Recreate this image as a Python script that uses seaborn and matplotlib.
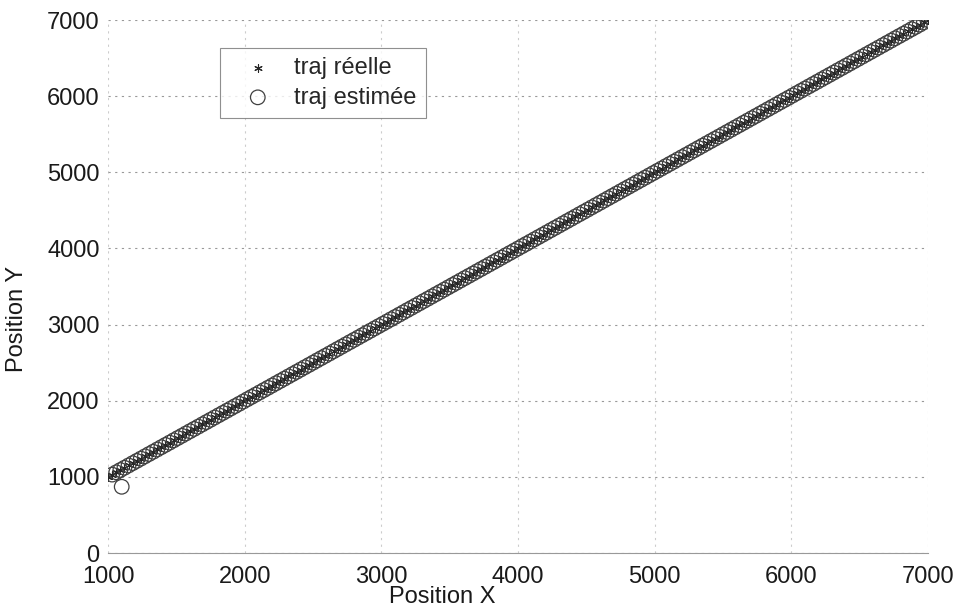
import matplotlib
matplotlib.use("Agg")
import matplotlib.pyplot as plt
import seaborn as sns

# true trajectory: x and y positions (points lie on y = x)
traj_x = [1000, 1030, 1060, 1090, 1120, 1150, 1180, 1210, 1240, 1270,
          1300, 1330, 1360, 1390, 1420, 1450, 1480, 1510, 1540, 1570,
          1600, 1630, 1660, 1690, 1720, 1750, 1780, 1810, 1840, 1870,
          1900, 1930, 1960, 1990, 2020, 2050, 2080, 2110, 2140, 2170,
          2200, 2230, 2260, 2290, 2320, 2350, 2380, 2410, 2440, 2470,
          2500, 2530, 2560, 2590, 2620, 2650, 2680, 2710, 2740, 2770,
          2800, 2830, 2860, 2890, 2920, 2950, 2980, 3010, 3040, 3070,
          3100, 3130, 3160, 3190, 3220, 3250, 3280, 3310, 3340, 3370,
          3400, 3430, 3460, 3490, 3520, 3550, 3580, 3610, 3640, 3670,
          3700, 3730, 3760, 3790, 3820, 3850, 3880, 3910, 3940, 3970,
          4000, 4030, 4060, 4090, 4120, 4150, 4180, 4210, 4240, 4270,
          4300, 4330, 4360, 4390, 4420, 4450, 4480, 4510, 4540, 4570,
          4600, 4630, 4660, 4690, 4720, 4750, 4780, 4810, 4840, 4870,
          4900, 4930, 4960, 4990, 5020, 5050, 5080, 5110, 5140, 5170,
          5200, 5230, 5260, 5290, 5320, 5350, 5380, 5410, 5440, 5470,
          5500, 5530, 5560, 5590, 5620, 5650, 5680, 5710, 5740, 5770,
          5800, 5830, 5860, 5890, 5920, 5950, 5980, 6010, 6040, 6070,
          6100, 6130, 6160, 6190, 6220, 6250, 6280, 6310, 6340, 6370,
          6400, 6430, 6460, 6490, 6520, 6550, 6580, 6610, 6640, 6670,
          6700, 6730, 6760, 6790, 6820, 6850, 6880, 6910, 6940, 6970,
          7000]
traj_y = traj_x

# estimated trajectory (first estimate is off, then it follows the true one)
est_x = [1100, 1030, 1060, 1090, 1120, 1150, 1180, 1210, 1240, 1270,
         1300, 1330, 1360, 1390, 1420, 1450, 1480, 1510, 1540, 1570,
         1600, 1630, 1660, 1690, 1720, 1750, 1780, 1810, 1840, 1870,
         1900, 1930, 1960, 1990, 2020, 2050, 2080, 2110, 2140, 2170,
         2200, 2230, 2260, 2290, 2320, 2350, 2380, 2410, 2440, 2470,
         2500, 2530, 2560, 2590, 2620, 2650, 2680, 2710, 2740, 2770,
         2800, 2830, 2860, 2890, 2920, 2950, 2980, 3010, 3040, 3070,
         3100, 3130, 3160, 3190, 3220, 3250, 3280, 3310, 3340, 3370,
         3400, 3430, 3460, 3490, 3520, 3550, 3580, 3610, 3640, 3670,
         3700, 3730, 3760, 3790, 3820, 3850, 3880, 3910, 3940, 3970,
         4000, 4030, 4060, 4090, 4120, 4150, 4180, 4210, 4240, 4270,
         4300, 4330, 4360, 4390, 4420, 4450, 4480, 4510, 4540, 4570,
         4600, 4630, 4660, 4690, 4720, 4750, 4780, 4810, 4840, 4870,
         4900, 4930, 4960, 4990, 5020, 5050, 5080, 5110, 5140, 5170,
         5200, 5230, 5260, 5290, 5320, 5350, 5380, 5410, 5440, 5470,
         5500, 5530, 5560, 5590, 5620, 5650, 5680, 5710, 5740, 5770,
         5800, 5830, 5860, 5890, 5920, 5950, 5980, 6010, 6040, 6070,
         6100, 6130, 6160, 6190, 6220, 6250, 6280, 6310, 6340, 6370,
         6400, 6430, 6460, 6490, 6520, 6550, 6580, 6610, 6640, 6670,
         6700, 6730, 6760, 6790, 6820, 6850, 6880, 6910, 6940, 6970,
         7000]
est_y = [870, 1030, 1060, 1090, 1120, 1150, 1180, 1210, 1240, 1270,
         1300, 1330, 1360, 1390, 1420, 1450, 1480, 1510, 1540, 1570,
         1600, 1630, 1660, 1690, 1720, 1750, 1780, 1810, 1840, 1870,
         1900, 1930, 1960, 1990, 2020, 2050, 2080, 2110, 2140, 2170,
         2200, 2230, 2260, 2290, 2320, 2350, 2380, 2410, 2440, 2470,
         2500, 2530, 2560, 2590, 2620, 2650, 2680, 2710, 2740, 2770,
         2800, 2830, 2860, 2890, 2920, 2950, 2980, 3010, 3040, 3070,
         3100, 3130, 3160, 3190, 3220, 3250, 3280, 3310, 3340, 3370,
         3400, 3430, 3460, 3490, 3520, 3550, 3580, 3610, 3640, 3670,
         3700, 3730, 3760, 3790, 3820, 3850, 3880, 3910, 3940, 3970,
         4000, 4030, 4060, 4090, 4120, 4150, 4180, 4210, 4240, 4270,
         4300, 4330, 4360, 4390, 4420, 4450, 4480, 4510, 4540, 4570,
         4600, 4630, 4660, 4690, 4720, 4750, 4780, 4810, 4840, 4870,
         4900, 4930, 4960, 4990, 5020, 5050, 5080, 5110, 5140, 5170,
         5200, 5230, 5260, 5290, 5320, 5350, 5380, 5410, 5440, 5470,
         5500, 5530, 5560, 5590, 5620, 5650, 5680, 5710, 5740, 5770,
         5800, 5830, 5860, 5890, 5920, 5950, 5980, 6010, 6040, 6070,
         6100, 6130, 6160, 6190, 6220, 6250, 6280, 6310, 6340, 6370,
         6400, 6430, 6460, 6490, 6520, 6550, 6580, 6610, 6640, 6670,
         6700, 6730, 6760, 6790, 6820, 6850, 6880, 6910, 6940, 6970,
         7000]

x_ticks = [1000, 2000, 3000, 4000, 5000, 6000, 7000]
y_ticks = [0, 1000, 2000, 3000, 4000, 5000, 6000, 7000]

sns.set_style("white")
plt.rcParams["font.family"] = ["Liberation Sans", "DejaVu Sans"]

fig = plt.figure(figsize=(9.57, 6.11), dpi=100)
ax = fig.add_axes([0.1129, 0.0949, 0.8568, 0.8723])

sns.scatterplot(x=traj_x, y=traj_y, ax=ax, marker=(6, 2, 0), s=30,
                color="0.15", linewidth=0.8, label="traj réelle", zorder=3)
sns.scatterplot(x=est_x, y=est_y, ax=ax, marker="o", s=110,
                facecolor="none", edgecolor="0.25", linewidth=0.9,
                label="traj estimée", zorder=4)

ax.set_xlim(1000, 7000)
ax.set_ylim(0, 7000)
ax.set_xticks(x_ticks)
ax.set_yticks(y_ticks)
ax.tick_params(labelsize=17, length=0, colors="0.1")
ax.tick_params(axis="x", pad=9)
ax.tick_params(axis="y", pad=6)
ax.xaxis.grid(True, linestyle=(0, (2, 4)), color="0.8", linewidth=0.8)
ax.yaxis.grid(True, linestyle=(0, (2, 4)), color="0.6", linewidth=0.8)

for side in ["top", "right", "left"]:
    ax.spines[side].set_visible(False)
ax.spines["bottom"].set_color("0.6")
ax.spines["bottom"].set_linewidth(0.8)

ax.set_xlabel("Position X", fontsize=17, color="0.1")
ax.xaxis.set_label_coords(0.407, -0.062)
ax.xaxis.label.set_va("top")
ax.set_ylabel("Position Y", fontsize=17, color="0.1")
ax.yaxis.set_label_coords(-0.098, 0.44)

leg = ax.legend(loc="upper left", bbox_to_anchor=(220 / 957, 1 - 48 / 611),
                bbox_transform=fig.transFigure, borderaxespad=0,
                fontsize=17, frameon=True, fancybox=False, edgecolor="0.45",
                handletextpad=0.34, borderpad=0.4, labelspacing=0.3,
                handlelength=2.4)
leg.get_frame().set_linewidth(0.8)

fig.savefig("out.png", dpi=100)
